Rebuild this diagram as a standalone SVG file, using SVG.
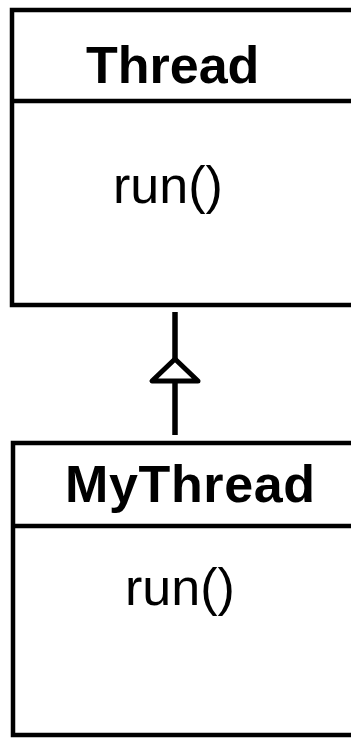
<svg xmlns="http://www.w3.org/2000/svg" width="351" height="740" viewBox="0 0 351 740">
<style>
.box{fill:#fff;stroke:#000;stroke-width:4.5}
.div{stroke:#000;stroke-width:4.5}
.name{font-family:"Liberation Sans",Arial,sans-serif;font-weight:bold;font-size:52px;fill:#000}
.op{font-family:"Liberation Sans",Arial,sans-serif;font-size:52px;fill:#000}
.conn{stroke:#000;stroke-width:5.5;fill:none}
.head{stroke:#000;stroke-width:5;fill:#fff;stroke-linejoin:round}
</style>
<rect width="351" height="740" fill="#fff"/>
<g id="Thread">
<rect class="box" x="12" y="10" width="360" height="295"/>
<line class="div" x1="12" y1="101" x2="372" y2="101"/>
<text class="name" x="86" y="83">Thread</text>
<text class="op" x="113" y="203">run()</text>
</g>
<g id="MyThread">
<rect class="box" x="13" y="443" width="360" height="292"/>
<line class="div" x1="13" y1="526" x2="373" y2="526"/>
<text class="name" x="65" y="502" textLength="250">MyThread</text>
<text class="op" x="125" y="605">run()</text>
</g>
<g id="connectors">
<line class="conn" x1="175" y1="435" x2="175" y2="382"/>
<polygon class="head" points="175,359 152,381 198,381"/>
<line class="conn" x1="175" y1="359" x2="175" y2="312"/>
</g>
</svg>
